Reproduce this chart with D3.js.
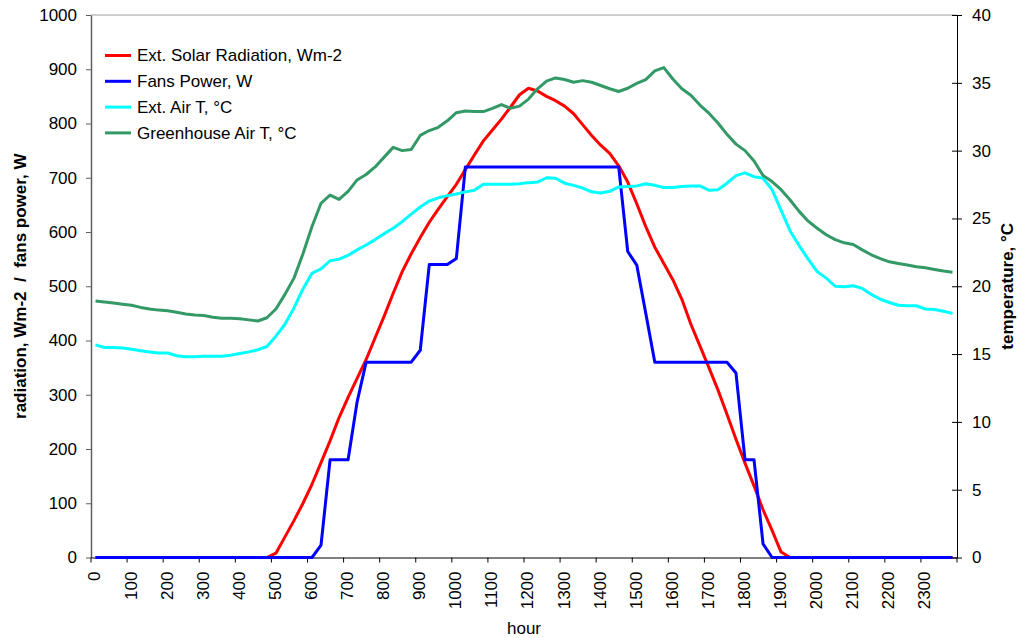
<!DOCTYPE html>
<html>
<head>
<meta charset="utf-8">
<script src="https://cdn.jsdelivr.net/npm/d3@7"></script>
<style>
  body { margin: 0; background: #fff; }
  text { font-family: "Liberation Sans", Arial, sans-serif; }
</style>
</head>
<body>
<div id="chart"></div>
<script>
// readings every 15 minutes, 00:00 .. 23:45
var hours = d3.range(24);
var minutes = [0, 15, 30, 45];
var xTickLabels = ["0", "100", "200", "300", "400", "500", "600", "700", "800", "900", "1000", "1100",
  "1200", "1300", "1400", "1500", "1600", "1700", "1800", "1900", "2000", "2100", "2200", "2300"];

var solarRadiation = [0, 0, 0, 0, 0, 0, 0, 0, 0, 0, 0, 0, 0, 0, 0, 0, 0, 0, 0, 0,
  8, 38, 68, 100, 135, 175, 215, 258, 295, 330, 365, 405, 445, 487, 527, 560, 590, 618, 642, 665,
  688, 715, 742, 768, 788, 808, 830, 853, 865, 860, 850, 842, 832, 818, 798, 778, 760, 745, 722, 692,
  652, 610, 572, 542, 512, 476, 430, 390, 350, 309, 264, 218, 174, 132, 88, 50, 10, 0, 0, 0,
  0, 0, 0, 0, 0, 0, 0, 0, 0, 0, 0, 0, 0, 0, 0, 0];

var fansPower = [0, 0, 0, 0, 0, 0, 0, 0, 0, 0, 0, 0, 0, 0, 0, 0, 0, 0, 0, 0,
  0, 0, 0, 0, 0, 23, 180, 180, 180, 287, 360, 360, 360, 360, 360, 360, 382, 540, 540, 540,
  551, 720, 720, 720, 720, 720, 720, 720, 720, 720, 720, 720, 720, 720, 720, 720, 720, 720, 720, 564,
  539, 450, 360, 360, 360, 360, 360, 360, 360, 360, 360, 340, 180, 180, 25, 0, 0, 0, 0, 0,
  0, 0, 0, 0, 0, 0, 0, 0, 0, 0, 0, 0, 0, 0, 0, 0];

var extAirT = [15.68, 15.48, 15.48, 15.44, 15.36, 15.24, 15.16, 15.08, 15.08, 14.88, 14.8, 14.8, 14.84, 14.84, 14.84, 14.92,
  15.04, 15.16, 15.32, 15.56, 16.32, 17.2, 18.4, 19.8, 20.96, 21.28, 21.88, 22.0, 22.28, 22.68, 23.04, 23.44,
  23.88, 24.28, 24.76, 25.32, 25.84, 26.28, 26.52, 26.68, 26.8, 26.96, 27.08, 27.52, 27.52, 27.52, 27.52, 27.56,
  27.64, 27.68, 28.0, 27.96, 27.6, 27.44, 27.24, 26.96, 26.88, 27.0, 27.32, 27.36, 27.4, 27.56, 27.44, 27.28,
  27.28, 27.36, 27.4, 27.4, 27.08, 27.12, 27.6, 28.16, 28.36, 28.08, 27.96, 27.12, 25.6, 24.08, 23.0, 22.0,
  21.08, 20.6, 20.0, 19.96, 20.04, 19.84, 19.4, 19.04, 18.8, 18.6, 18.56, 18.56, 18.32, 18.28, 18.16, 18.0];

var greenhouseAirT = [18.92, 18.84, 18.76, 18.68, 18.6, 18.44, 18.32, 18.24, 18.2, 18.08, 17.96, 17.88, 17.84, 17.72, 17.64, 17.64,
  17.6, 17.52, 17.44, 17.68, 18.32, 19.4, 20.6, 22.4, 24.4, 26.12, 26.72, 26.4, 27.0, 27.84, 28.24, 28.8,
  29.52, 30.24, 30.0, 30.08, 31.12, 31.48, 31.72, 32.2, 32.8, 32.92, 32.88, 32.88, 33.12, 33.4, 33.12, 33.28,
  33.8, 34.56, 35.12, 35.36, 35.24, 35.04, 35.16, 35.04, 34.8, 34.56, 34.36, 34.6, 34.96, 35.24, 35.88, 36.12,
  35.28, 34.56, 34.08, 33.36, 32.76, 32.04, 31.2, 30.48, 30.0, 29.24, 28.16, 27.72, 27.12, 26.36, 25.52, 24.8,
  24.28, 23.8, 23.44, 23.2, 23.08, 22.68, 22.32, 22.04, 21.8, 21.68, 21.56, 21.44, 21.36, 21.24, 21.12, 21.04];

var seriesNames = ["Ext. Solar Radiation, Wm-2", "Fans Power, W", "Ext. Air T, \u00b0C", "Greenhouse Air T, \u00b0C"];
var seriesColors = ["#ff0000", "#0000ff", "#00ffff", "#339966"];

var categories = [];
hours.forEach(function(h) {
  minutes.forEach(function(m) { categories.push(String(h * 100 + m)); });
});

var width = 1018, height = 638;
var plotLeft = 91, plotRight = 957, plotTop = 15, plotBottom = 557.5;
var FONT = "17px";

var svg = d3.select("#chart").append("svg")
  .attr("width", width)
  .attr("height", height);

var x = d3.scaleBand()
  .domain(categories)
  .range([plotLeft, plotRight]);

var yLeft = d3.scaleLinear().domain([0, 1000]).range([plotBottom, plotTop]);
var yRight = d3.scaleLinear().domain([0, 40]).range([plotBottom, plotTop]);

// plot area top border
svg.append("line")
  .attr("x1", plotLeft).attr("x2", plotRight)
  .attr("y1", plotTop).attr("y2", plotTop)
  .attr("stroke", "#a0a0a0");

// left axis
var gLeft = svg.append("g")
  .attr("transform", "translate(" + plotLeft + ",0)")
  .call(d3.axisLeft(yLeft).tickValues(d3.range(0, 1001, 100)).tickFormat(d3.format("d"))
    .tickSize(5).tickPadding(9).tickSizeOuter(0));
gLeft.select(".domain").attr("stroke", "#606060").attr("stroke-width", 1.5);
gLeft.selectAll(".tick line").attr("stroke", "#606060");

// right axis
var gRight = svg.append("g")
  .attr("transform", "translate(" + plotRight + ",0)")
  .call(d3.axisRight(yRight).tickValues(d3.range(0, 41, 5)).tickSize(5).tickPadding(10).tickSizeOuter(0));
gRight.selectAll(".tick line").attr("x1", -5);

// x axis, ticks between categories, a label every hour
var gx = svg.append("g")
  .attr("transform", "translate(0," + plotBottom + ")")
  .call(d3.axisBottom(x).tickValues([]).tickSizeOuter(0));
gx.selectAll(".tick-mark")
  .data(xTickLabels)
  .enter().append("line")
    .attr("x1", function(d) { return x(d); })
    .attr("x2", function(d) { return x(d); })
    .attr("y1", 0).attr("y2", 5)
    .attr("stroke", "#000");
gx.append("line")
  .attr("x1", plotRight).attr("x2", plotRight).attr("y1", 0).attr("y2", 5).attr("stroke", "#000");
gx.selectAll(".xlab")
  .data(xTickLabels)
  .enter().append("text")
    .attr("transform", function(d) {
      return "translate(" + (x(d) + x.bandwidth() / 2 - 1) + ",14) rotate(-90)";
    })
    .attr("dy", "0.35em")
    .attr("text-anchor", "end")
    .attr("fill", "#000")
    .style("font-size", FONT)
    .text(function(d) { return d; });

[gLeft, gRight, gx].forEach(function(g) {
  g.attr("font-family", null).attr("font-size", null);
  g.selectAll(".tick text").style("font-size", FONT).attr("fill", "#000");
});

// axis titles
svg.append("text")
  .attr("transform", "translate(26," + ((plotTop + plotBottom) / 2) + ") rotate(-90)")
  .attr("text-anchor", "middle")
  .attr("xml:space", "preserve")
  .style("font-size", FONT)
  .style("font-weight", "bold")
  .text("radiation, Wm-2  /  fans power, W");

svg.append("text")
  .attr("transform", "translate(1013," + ((plotTop + plotBottom) / 2) + ") rotate(-90)")
  .attr("text-anchor", "middle")
  .style("font-size", FONT)
  .style("font-weight", "bold")
  .text("temperature, \u00b0C");

svg.append("text")
  .attr("x", (plotLeft + plotRight) / 2)
  .attr("y", 634)
  .attr("text-anchor", "middle")
  .style("font-size", FONT)
  .text("hour");

// lines
function cx(i) { return x(categories[i]) + x.bandwidth() / 2; }

var leftLine = d3.line()
  .x(function(d, i) { return cx(i); })
  .y(function(d) { return yLeft(d); });
var rightLine = d3.line()
  .x(function(d, i) { return cx(i); })
  .y(function(d) { return yRight(d); });

var series = [
  { values: solarRadiation, line: leftLine },
  { values: fansPower, line: leftLine },
  { values: extAirT, line: rightLine },
  { values: greenhouseAirT, line: rightLine }
];

svg.selectAll(".series")
  .data(series)
  .enter().append("path")
    .attr("class", "series")
    .attr("fill", "none")
    .attr("stroke", function(d, i) { return seriesColors[i]; })
    .attr("stroke-width", 3)
    .attr("stroke-linejoin", "round")
    .attr("d", function(d) { return d.line(d.values); });

// legend
var legend = svg.selectAll(".legend")
  .data(seriesNames)
  .enter().append("g")
    .attr("class", "legend")
    .attr("transform", function(d, i) { return "translate(105," + (55.5 + i * 25.8) + ")"; });
legend.append("line")
  .attr("x1", 0).attr("x2", 26)
  .attr("stroke", function(d, i) { return seriesColors[i]; })
  .attr("stroke-width", 3);
legend.append("text")
  .attr("x", 32)
  .attr("dy", "0.35em")
  .style("font-size", FONT)
  .text(function(d) { return d; });
</script>
</body>
</html>
